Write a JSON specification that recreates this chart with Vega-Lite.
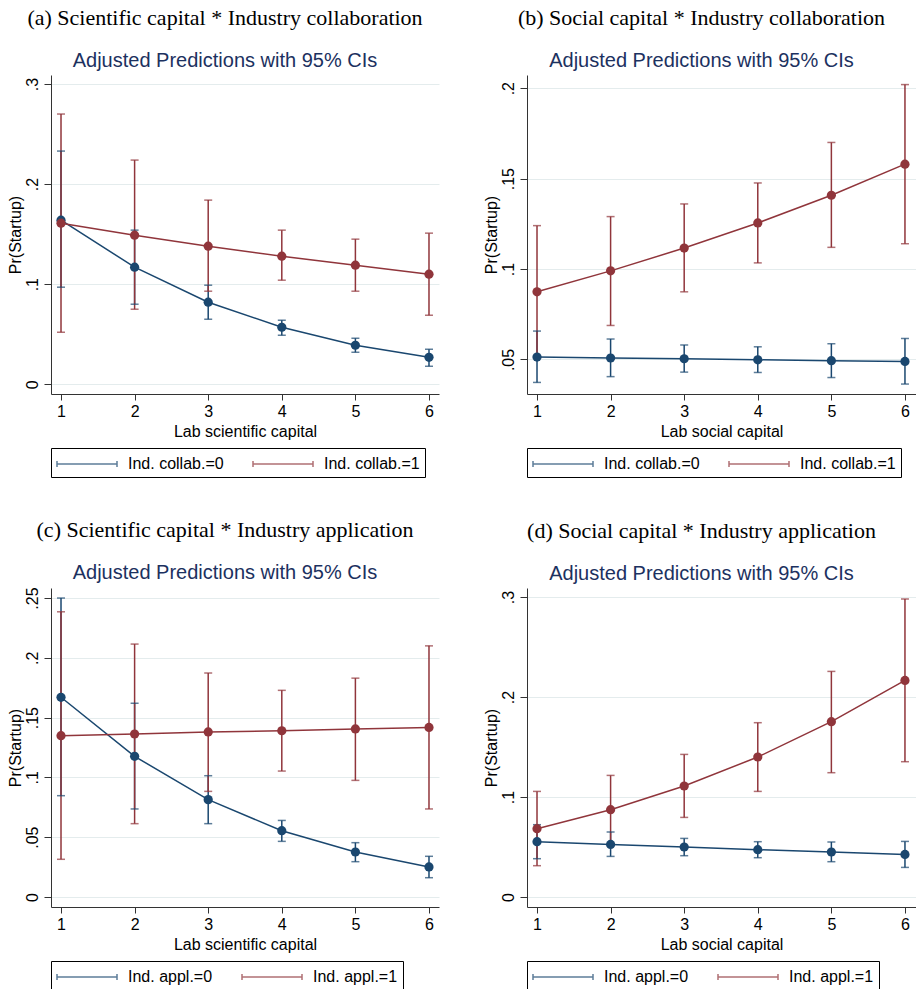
{
  "$schema": "https://vega.github.io/schema/vega-lite/v6.json",
  "background": "white",
  "padding": {"left": 6, "top": 7, "right": 0, "bottom": 0},
  "config": {
    "view": {"stroke": null},
    "axis": {
      "labelFont": "Liberation Sans", "titleFont": "Liberation Sans",
      "labelFontSize": 16, "titleFontSize": 16, "titleFontWeight": "normal",
      "labelColor": "#000", "titleColor": "#000",
      "domainColor": "#333", "tickColor": "#333",
      "gridColor": "#e4eced", "gridWidth": 1
    },
    "axisX": {"grid": false, "tickSize": 6, "labelPadding": 3, "titlePadding": 4, "labelFlush": false},
    "axisY": {"tickSize": 7, "labelAngle": 270, "labelAlign": "center", "labelBaseline": "bottom", "labelPadding": 4, "titlePadding": 1},
    "legend": {
      "orient": "bottom", "direction": "horizontal", "title": null,
      "labelFont": "Liberation Sans", "labelFontSize": 16, "labelColor": "#000",
      "labelOffset": 50, "columnPadding": 26, "padding": 5, "offset": 9,
      "strokeColor": "#000", "fillColor": "white",
      "symbolType": "M-1,-0.3L-1,0.3M-1,0L5,0M5,-0.3L5,0.3",
      "symbolSize": 400, "symbolStrokeWidth": 1.5
    },
    "title": {
      "font": "Liberation Serif", "fontSize": 22, "fontWeight": "normal", "color": "#000",
      "anchor": "middle", "frame": "group", "dx": -20,
      "subtitleFont": "Liberation Sans", "subtitleFontSize": 20, "subtitleColor": "#1c3160",
      "subtitlePadding": 21, "offset": 3
    }
  },
  "columns": 2,
  "spacing": {"row": 40, "column": 44},
  "resolve": {"scale": {"color": "independent"}, "legend": {"color": "independent"}},
  "concat": [
    {
      "title": {"text": "(a) Scientific capital * Industry collaboration", "subtitle": "Adjusted Predictions with 95% CIs"},
      "width": 388, "height": 319,
      "data": {"values": [
        {"x": 1, "g": "Ind. collab.=0", "p": 0.164, "lo": 0.097, "hi": 0.233},
        {"x": 2, "g": "Ind. collab.=0", "p": 0.117, "lo": 0.080, "hi": 0.154},
        {"x": 3, "g": "Ind. collab.=0", "p": 0.082, "lo": 0.065, "hi": 0.099},
        {"x": 4, "g": "Ind. collab.=0", "p": 0.057, "lo": 0.049, "hi": 0.064},
        {"x": 5, "g": "Ind. collab.=0", "p": 0.039, "lo": 0.032, "hi": 0.046},
        {"x": 6, "g": "Ind. collab.=0", "p": 0.027, "lo": 0.018, "hi": 0.035},
        {"x": 1, "g": "Ind. collab.=1", "p": 0.161, "lo": 0.052, "hi": 0.270},
        {"x": 2, "g": "Ind. collab.=1", "p": 0.149, "lo": 0.075, "hi": 0.224},
        {"x": 3, "g": "Ind. collab.=1", "p": 0.138, "lo": 0.093, "hi": 0.184},
        {"x": 4, "g": "Ind. collab.=1", "p": 0.128, "lo": 0.104, "hi": 0.154},
        {"x": 5, "g": "Ind. collab.=1", "p": 0.119, "lo": 0.093, "hi": 0.145},
        {"x": 6, "g": "Ind. collab.=1", "p": 0.110, "lo": 0.069, "hi": 0.151}
      ]},
      "encoding": {
        "x": {"field": "x", "type": "quantitative", "title": "Lab scientific capital", "scale": {"domain": [0.864, 6.136], "nice": false, "zero": false}, "axis": {"values": [1, 2, 3, 4, 5, 6], "format": "d"}},
        "color": {"field": "g", "type": "nominal", "scale": {"domain": ["Ind. collab.=0", "Ind. collab.=1"], "range": ["#1a476f", "#90353b"]}}
      },
      "layer": [
        {"mark": {"type": "rule", "strokeWidth": 1.5},
         "encoding": {"y": {"field": "lo", "type": "quantitative", "title": "Pr(Startup)", "scale": {"domain": [-0.0097, 0.309], "nice": false, "zero": false}, "axis": {"grid": true, "values": [0, 0.1, 0.2, 0.3], "labelExpr": "datum.value == 0 ? '0' : replace(format(datum.value, '.2~f'), '0.', '.')"}}, "y2": {"field": "hi"}}},
        {"mark": {"type": "tick", "orient": "horizontal", "size": 8, "thickness": 1.5}, "encoding": {"y": {"field": "hi", "type": "quantitative"}}},
        {"mark": {"type": "tick", "orient": "horizontal", "size": 8, "thickness": 1.5}, "encoding": {"y": {"field": "lo", "type": "quantitative"}}},
        {"mark": {"type": "line", "strokeWidth": 1.5}, "encoding": {"y": {"field": "p", "type": "quantitative"}}},
        {"mark": {"type": "point", "filled": true, "size": 85, "opacity": 1}, "encoding": {"y": {"field": "p", "type": "quantitative"}}}
      ]
    },
    {
      "title": {"text": "(b) Social capital * Industry collaboration", "subtitle": "Adjusted Predictions with 95% CIs"},
      "width": 389, "height": 319,
      "data": {"values": [
        {"x": 1, "g": "Ind. collab.=0", "p": 0.0513, "lo": 0.0373, "hi": 0.0657},
        {"x": 2, "g": "Ind. collab.=0", "p": 0.0508, "lo": 0.0405, "hi": 0.0613},
        {"x": 3, "g": "Ind. collab.=0", "p": 0.0504, "lo": 0.0430, "hi": 0.0580},
        {"x": 4, "g": "Ind. collab.=0", "p": 0.0498, "lo": 0.0428, "hi": 0.0570},
        {"x": 5, "g": "Ind. collab.=0", "p": 0.0493, "lo": 0.0400, "hi": 0.0587},
        {"x": 6, "g": "Ind. collab.=0", "p": 0.0489, "lo": 0.0364, "hi": 0.0616},
        {"x": 1, "g": "Ind. collab.=1", "p": 0.0874, "lo": 0.0510, "hi": 0.1240},
        {"x": 2, "g": "Ind. collab.=1", "p": 0.0990, "lo": 0.0688, "hi": 0.1290},
        {"x": 3, "g": "Ind. collab.=1", "p": 0.1116, "lo": 0.0874, "hi": 0.1360},
        {"x": 4, "g": "Ind. collab.=1", "p": 0.1255, "lo": 0.1034, "hi": 0.1476},
        {"x": 5, "g": "Ind. collab.=1", "p": 0.1408, "lo": 0.1120, "hi": 0.1700},
        {"x": 6, "g": "Ind. collab.=1", "p": 0.1580, "lo": 0.1140, "hi": 0.2020}
      ]},
      "encoding": {
        "x": {"field": "x", "type": "quantitative", "title": "Lab social capital", "scale": {"domain": [0.864, 6.15], "nice": false, "zero": false}, "axis": {"values": [1, 2, 3, 4, 5, 6], "format": "d"}},
        "color": {"field": "g", "type": "nominal", "scale": {"domain": ["Ind. collab.=0", "Ind. collab.=1"], "range": ["#1a476f", "#90353b"]}}
      },
      "layer": [
        {"mark": {"type": "rule", "strokeWidth": 1.5},
         "encoding": {"y": {"field": "lo", "type": "quantitative", "title": "Pr(Startup)", "scale": {"domain": [0.0309, 0.2073], "nice": false, "zero": false}, "axis": {"grid": true, "values": [0.05, 0.1, 0.15, 0.2], "labelExpr": "datum.value == 0 ? '0' : replace(format(datum.value, '.2~f'), '0.', '.')"}}, "y2": {"field": "hi"}}},
        {"mark": {"type": "tick", "orient": "horizontal", "size": 8, "thickness": 1.5}, "encoding": {"y": {"field": "hi", "type": "quantitative"}}},
        {"mark": {"type": "tick", "orient": "horizontal", "size": 8, "thickness": 1.5}, "encoding": {"y": {"field": "lo", "type": "quantitative"}}},
        {"mark": {"type": "line", "strokeWidth": 1.5}, "encoding": {"y": {"field": "p", "type": "quantitative"}}},
        {"mark": {"type": "point", "filled": true, "size": 85, "opacity": 1}, "encoding": {"y": {"field": "p", "type": "quantitative"}}}
      ]
    },
    {
      "title": {"text": "(c) Scientific capital * Industry application", "subtitle": "Adjusted Predictions with 95% CIs"},
      "width": 388, "height": 319,
      "data": {"values": [
        {"x": 1, "g": "Ind. appl.=0", "p": 0.1670, "lo": 0.0847, "hi": 0.2500},
        {"x": 2, "g": "Ind. appl.=0", "p": 0.1176, "lo": 0.0736, "hi": 0.1620},
        {"x": 3, "g": "Ind. appl.=0", "p": 0.0814, "lo": 0.0613, "hi": 0.1014},
        {"x": 4, "g": "Ind. appl.=0", "p": 0.0554, "lo": 0.0465, "hi": 0.0640},
        {"x": 5, "g": "Ind. appl.=0", "p": 0.0376, "lo": 0.0295, "hi": 0.0454},
        {"x": 6, "g": "Ind. appl.=0", "p": 0.0251, "lo": 0.0161, "hi": 0.0340},
        {"x": 1, "g": "Ind. appl.=1", "p": 0.1349, "lo": 0.0315, "hi": 0.2385},
        {"x": 2, "g": "Ind. appl.=1", "p": 0.1363, "lo": 0.0613, "hi": 0.2115},
        {"x": 3, "g": "Ind. appl.=1", "p": 0.1380, "lo": 0.0883, "hi": 0.1873},
        {"x": 4, "g": "Ind. appl.=1", "p": 0.1390, "lo": 0.1053, "hi": 0.1728},
        {"x": 5, "g": "Ind. appl.=1", "p": 0.1405, "lo": 0.0975, "hi": 0.1830},
        {"x": 6, "g": "Ind. appl.=1", "p": 0.1418, "lo": 0.0736, "hi": 0.2100}
      ]},
      "encoding": {
        "x": {"field": "x", "type": "quantitative", "title": "Lab scientific capital", "scale": {"domain": [0.864, 6.136], "nice": false, "zero": false}, "axis": {"values": [1, 2, 3, 4, 5, 6], "format": "d"}},
        "color": {"field": "g", "type": "nominal", "scale": {"domain": ["Ind. appl.=0", "Ind. appl.=1"], "range": ["#1a476f", "#90353b"]}}
      },
      "layer": [
        {"mark": {"type": "rule", "strokeWidth": 1.5},
         "encoding": {"y": {"field": "lo", "type": "quantitative", "title": "Pr(Startup)", "scale": {"domain": [-0.0084, 0.2584], "nice": false, "zero": false}, "axis": {"grid": true, "values": [0, 0.05, 0.1, 0.15, 0.2, 0.25], "labelExpr": "datum.value == 0 ? '0' : replace(format(datum.value, '.2~f'), '0.', '.')"}}, "y2": {"field": "hi"}}},
        {"mark": {"type": "tick", "orient": "horizontal", "size": 8, "thickness": 1.5}, "encoding": {"y": {"field": "hi", "type": "quantitative"}}},
        {"mark": {"type": "tick", "orient": "horizontal", "size": 8, "thickness": 1.5}, "encoding": {"y": {"field": "lo", "type": "quantitative"}}},
        {"mark": {"type": "line", "strokeWidth": 1.5}, "encoding": {"y": {"field": "p", "type": "quantitative"}}},
        {"mark": {"type": "point", "filled": true, "size": 85, "opacity": 1}, "encoding": {"y": {"field": "p", "type": "quantitative"}}}
      ]
    },
    {
      "title": {"text": "(d) Social capital * Industry application", "subtitle": "Adjusted Predictions with 95% CIs"},
      "width": 389, "height": 319,
      "data": {"values": [
        {"x": 1, "g": "Ind. appl.=0", "p": 0.0553, "lo": 0.0383, "hi": 0.0723},
        {"x": 2, "g": "Ind. appl.=0", "p": 0.0526, "lo": 0.0406, "hi": 0.0650},
        {"x": 3, "g": "Ind. appl.=0", "p": 0.0500, "lo": 0.0413, "hi": 0.0586},
        {"x": 4, "g": "Ind. appl.=0", "p": 0.0473, "lo": 0.0393, "hi": 0.0553},
        {"x": 5, "g": "Ind. appl.=0", "p": 0.0450, "lo": 0.0353, "hi": 0.0550},
        {"x": 6, "g": "Ind. appl.=0", "p": 0.0426, "lo": 0.0296, "hi": 0.0556},
        {"x": 1, "g": "Ind. appl.=1", "p": 0.0683, "lo": 0.0313, "hi": 0.1056},
        {"x": 2, "g": "Ind. appl.=1", "p": 0.0873, "lo": 0.0530, "hi": 0.1216},
        {"x": 3, "g": "Ind. appl.=1", "p": 0.1110, "lo": 0.0796, "hi": 0.1426},
        {"x": 4, "g": "Ind. appl.=1", "p": 0.1400, "lo": 0.1056, "hi": 0.1743},
        {"x": 5, "g": "Ind. appl.=1", "p": 0.1753, "lo": 0.1243, "hi": 0.2256},
        {"x": 6, "g": "Ind. appl.=1", "p": 0.2166, "lo": 0.1353, "hi": 0.2980}
      ]},
      "encoding": {
        "x": {"field": "x", "type": "quantitative", "title": "Lab social capital", "scale": {"domain": [0.864, 6.15], "nice": false, "zero": false}, "axis": {"values": [1, 2, 3, 4, 5, 6], "format": "d"}},
        "color": {"field": "g", "type": "nominal", "scale": {"domain": ["Ind. appl.=0", "Ind. appl.=1"], "range": ["#1a476f", "#90353b"]}}
      },
      "layer": [
        {"mark": {"type": "rule", "strokeWidth": 1.5},
         "encoding": {"y": {"field": "lo", "type": "quantitative", "title": "Pr(Startup)", "scale": {"domain": [-0.01, 0.309], "nice": false, "zero": false}, "axis": {"grid": true, "values": [0, 0.1, 0.2, 0.3], "labelExpr": "datum.value == 0 ? '0' : replace(format(datum.value, '.2~f'), '0.', '.')"}}, "y2": {"field": "hi"}}},
        {"mark": {"type": "tick", "orient": "horizontal", "size": 8, "thickness": 1.5}, "encoding": {"y": {"field": "hi", "type": "quantitative"}}},
        {"mark": {"type": "tick", "orient": "horizontal", "size": 8, "thickness": 1.5}, "encoding": {"y": {"field": "lo", "type": "quantitative"}}},
        {"mark": {"type": "line", "strokeWidth": 1.5}, "encoding": {"y": {"field": "p", "type": "quantitative"}}},
        {"mark": {"type": "point", "filled": true, "size": 85, "opacity": 1}, "encoding": {"y": {"field": "p", "type": "quantitative"}}}
      ]
    }
  ]
}
